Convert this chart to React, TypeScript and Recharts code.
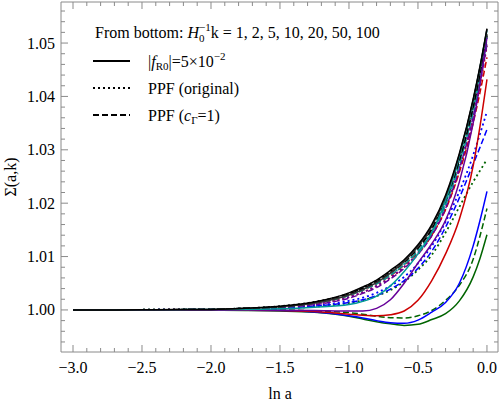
import { Line, LineChart, XAxis, YAxis } from "recharts";

// ln a grid
const lnA = [-3, -2.75, -2.5, -2.25, -2, -1.75, -1.5, -1.25, -1, -0.9, -0.8, -0.7, -0.6, -0.5, -0.4, -0.3, -0.2, -0.1, -0.05, 0];

// Sigma(a,k) for each k: solid = |fR0|=5e-2, orig = PPF (original), cg = PPF (c_Gamma=1)
const k1Solid = [1, 1, 1, 1, 0.99995, 0.9999, 0.9998, 0.99955, 0.9988, 0.9983, 0.9978, 0.9974, 0.9971, 0.9973, 0.9982, 0.9993, 1.0017, 1.0062, 1.0097, 1.0141];
const k1Orig = [1, 1, 1, 1.00003, 1.0001, 1.0001, 1.0003, 1.0006, 1.0013, 1.0018, 1.0026, 1.0037, 1.0053, 1.0075, 1.0103, 1.0145, 1.0193, 1.024, 1.0261, 1.0282];
const k1Cg = [1, 1, 1, 1, 1, 1, 1, 0.9998, 0.9995, 0.9992, 0.9988, 0.99855, 0.9985, 0.9989, 0.9999, 1.0018, 1.0046, 1.0095, 1.0139, 1.019];
const k2Solid = [1, 1, 1, 1, 1, 0.99995, 0.9999, 0.9996, 0.9989, 0.9985, 0.998, 0.9976, 0.9975, 0.9981, 0.9996, 1.0014, 1.005, 1.012, 1.0168, 1.0222];
const k2Orig = [1, 1, 1.00002, 1.00005, 1.0001, 1.0002, 1.0004, 1.0008, 1.0017, 1.0023, 1.0032, 1.0045, 1.0062, 1.0087, 1.012, 1.0165, 1.0222, 1.029, 1.033, 1.0372];
const k2Cg = [1, 1, 1.00002, 1.00004, 1.0001, 1.0002, 1.0003, 1.0007, 1.0014, 1.0019, 1.0027, 1.0039, 1.0055, 1.0078, 1.011, 1.0155, 1.021, 1.0273, 1.0305, 1.0338];
const k5Solid = [1, 1, 1, 1, 1, 0.99995, 0.9999, 0.9997, 0.9992, 0.999, 0.9989, 0.9991, 0.9998, 1.0018, 1.0055, 1.0105, 1.017, 1.027, 1.0345, 1.0432];
const k5Orig = [1, 1, 1.00002, 1.00004, 1.0001, 1.0002, 1.0005, 1.0011, 1.0024, 1.0033, 1.0045, 1.006, 1.008, 1.0105, 1.014, 1.019, 1.0262, 1.036, 1.0422, 1.0495];
const k5Cg = [1, 1, 1.00002, 1.00004, 1.0001, 1.0002, 1.0005, 1.0012, 1.0027, 1.0037, 1.0049, 1.0064, 1.0084, 1.0108, 1.014, 1.0188, 1.0258, 1.035, 1.0408, 1.0473];
const k10Solid = [1, 1, 1, 1, 1, 0.99998, 0.99995, 0.9999, 0.9998, 0.9998, 1.0003, 1.0019, 1.005, 1.0088, 1.0124, 1.0168, 1.024, 1.035, 1.0425, 1.051];
const k10Orig = [1, 1, 1.00002, 1.00005, 1.0001, 1.0002, 1.0005, 1.0011, 1.0024, 1.0033, 1.0045, 1.0061, 1.0081, 1.0107, 1.0142, 1.0193, 1.0268, 1.0368, 1.043, 1.0502];
const k10Cg = [1, 1, 1.00002, 1.00004, 1.0001, 1.0002, 1.0005, 1.001, 1.0022, 1.0031, 1.0042, 1.0058, 1.0078, 1.0104, 1.0139, 1.019, 1.0264, 1.0362, 1.0425, 1.0497];
const k20Solid = [1, 1, 1.00002, 1.00004, 1.0001, 1.0001, 1.0002, 1.0005, 1.001, 1.0016, 1.0026, 1.0045, 1.0072, 1.0105, 1.0145, 1.0205, 1.0288, 1.0392, 1.0455, 1.0524];
const k20Orig = [1, 1, 1.00003, 1.00005, 1.0001, 1.0003, 1.0006, 1.0013, 1.0028, 1.0038, 1.005, 1.0066, 1.0086, 1.0112, 1.0147, 1.02, 1.0276, 1.0376, 1.0438, 1.051];
const k20Cg = [1, 1, 1.00003, 1.00005, 1.0001, 1.0003, 1.0006, 1.0013, 1.0027, 1.0037, 1.0049, 1.0065, 1.0085, 1.011, 1.0145, 1.0197, 1.0273, 1.0372, 1.0434, 1.0506];
const k50Solid = [1, 1, 1.00003, 1.00005, 1.0001, 1.0003, 1.0006, 1.0013, 1.0028, 1.0038, 1.0051, 1.0069, 1.0091, 1.0119, 1.0157, 1.0212, 1.0291, 1.0393, 1.0455, 1.0526];
const k50Orig = [1, 1, 1.00003, 1.00005, 1.0001, 1.0003, 1.0006, 1.0014, 1.003, 1.0041, 1.0054, 1.0071, 1.0091, 1.0118, 1.0154, 1.0208, 1.0285, 1.0386, 1.0448, 1.0518];
const k50Cg = [1, 1, 1.00003, 1.00005, 1.0001, 1.0003, 1.0006, 1.0013, 1.0029, 1.0039, 1.0052, 1.0069, 1.0089, 1.0115, 1.015, 1.0203, 1.0279, 1.0379, 1.0441, 1.0511];
const k100Solid = [1, 1, 1.00003, 1.00006, 1.0001, 1.0003, 1.0007, 1.0015, 1.0032, 1.0043, 1.0056, 1.0074, 1.0094, 1.0122, 1.016, 1.0215, 1.0293, 1.0395, 1.0457, 1.0527];
const k100Orig = [1, 1, 1.00003, 1.00006, 1.0001, 1.0003, 1.0007, 1.0015, 1.0031, 1.0042, 1.0055, 1.0072, 1.0092, 1.0119, 1.0156, 1.021, 1.0287, 1.0388, 1.045, 1.052];
const k100Cg = [1, 1, 1.00003, 1.00006, 1.0001, 1.0003, 1.0006, 1.0014, 1.003, 1.004, 1.0053, 1.007, 1.009, 1.0116, 1.0152, 1.0205, 1.0281, 1.0381, 1.0443, 1.0513];

// tick values (labels only on the major ones)
const xTicks = [-3.0, -2.9, -2.8, -2.7, -2.6, -2.5, -2.4, -2.3, -2.2, -2.1, -2.0, -1.9, -1.8, -1.7, -1.6, -1.5, -1.4, -1.3, -1.2, -1.1, -1.0, -0.9, -0.8, -0.7, -0.6, -0.5, -0.4, -0.3, -0.2, -0.1, 0.0];
const yTicks = [0.994, 0.996, 0.998, 1.0, 1.002, 1.004, 1.006, 1.008, 1.01, 1.012, 1.014, 1.016, 1.018, 1.02, 1.022, 1.024, 1.026, 1.028, 1.03, 1.032, 1.034, 1.036, 1.038, 1.04, 1.042, 1.044, 1.046, 1.048, 1.05, 1.052, 1.054, 1.056];

const kColors = {
  k1: "#006400",
  k2: "#0000ff",
  k5: "#cc0000",
  k10: "#660099",
  k20: "#009999",
  k50: "#333333",
  k100: "#000000",
};

const DOTTED = "2 3";
const DASHED = "6 3";

const series = [
  { key: "k1o", values: k1Orig, color: kColors.k1, dash: DOTTED },
  { key: "k2o", values: k2Orig, color: kColors.k2, dash: DOTTED },
  { key: "k5o", values: k5Orig, color: kColors.k5, dash: DOTTED },
  { key: "k10o", values: k10Orig, color: kColors.k10, dash: DOTTED },
  { key: "k20o", values: k20Orig, color: kColors.k20, dash: DOTTED },
  { key: "k50o", values: k50Orig, color: kColors.k50, dash: DOTTED },
  { key: "k100o", values: k100Orig, color: kColors.k100, dash: DOTTED },
  { key: "k1c", values: k1Cg, color: kColors.k1, dash: DASHED },
  { key: "k2c", values: k2Cg, color: kColors.k2, dash: DASHED },
  { key: "k5c", values: k5Cg, color: kColors.k5, dash: DASHED },
  { key: "k10c", values: k10Cg, color: kColors.k10, dash: DASHED },
  { key: "k20c", values: k20Cg, color: kColors.k20, dash: DASHED },
  { key: "k50c", values: k50Cg, color: kColors.k50, dash: DASHED },
  { key: "k100c", values: k100Cg, color: kColors.k100, dash: DASHED },
  { key: "k1s", values: k1Solid, color: kColors.k1, dash: undefined },
  { key: "k2s", values: k2Solid, color: kColors.k2, dash: undefined },
  { key: "k5s", values: k5Solid, color: kColors.k5, dash: undefined },
  { key: "k10s", values: k10Solid, color: kColors.k10, dash: undefined },
  { key: "k20s", values: k20Solid, color: kColors.k20, dash: undefined },
  { key: "k50s", values: k50Solid, color: kColors.k50, dash: undefined },
  { key: "k100s", values: k100Solid, color: kColors.k100, dash: undefined },
];

const data = lnA.map((x, i) => {
  const row: Record<string, number> = { x };
  series.forEach((s) => (row[s.key] = s.values[i]));
  return row;
});

const FRAME = "#8a8a8a";
const SERIF = '"Liberation Serif", "Times New Roman", serif';

const isMajorX = (v: number) => Math.abs(v * 2 - Math.round(v * 2)) < 1e-6;
const isMajorY = (v: number) => Math.abs(v * 100 - Math.round(v * 100)) < 1e-6;
const fmtX = (v: number) => (Math.abs(v) < 1e-9 ? "0.0" : (v < 0 ? "\u2212" : "") + Math.abs(v).toFixed(1));

function BottomTick(props: any) {
  const { x, y, payload } = props;
  const major = isMajorX(payload.value);
  return (
    <g>
      <line x1={x} x2={x} y1={y} y2={y - (major ? 7 : 4)} stroke={FRAME} />
      {major && (
        <text x={x} y={y + 20.5} textAnchor="middle" fontSize={16} fontFamily={SERIF} fill="#000">
          {fmtX(payload.value)}
        </text>
      )}
    </g>
  );
}

function TopTick(props: any) {
  const { x, y, payload } = props;
  const major = isMajorX(payload.value);
  return <line x1={x} x2={x} y1={y} y2={y + (major ? 7 : 4)} stroke={FRAME} />;
}

function LeftTick(props: any) {
  const { x, y, payload } = props;
  const major = isMajorY(payload.value);
  return (
    <g>
      <line x1={x} x2={x + (major ? 7 : 4)} y1={y} y2={y} stroke={FRAME} />
      {major && (
        <text x={x - 6} y={y + 5.5} textAnchor="end" fontSize={16} fontFamily={SERIF} fill="#000">
          {payload.value.toFixed(2)}
        </text>
      )}
    </g>
  );
}

function RightTick(props: any) {
  const { x, y, payload } = props;
  const major = isMajorY(payload.value);
  return <line x1={x} x2={x - (major ? 7 : 4)} y1={y} y2={y} stroke={FRAME} />;
}

export default function App() {
  return (
    <div style={{ position: "absolute", left: 0, top: 0, width: 500, height: 403, background: "#fff" }}>
      <LineChart width={500} height={403} data={data} margin={{ top: 0, right: 0, bottom: 0, left: 0 }}>
        <XAxis
          xAxisId="b"
          dataKey="x"
          type="number"
          domain={[-3.087, 0.08]}
          allowDataOverflow
          ticks={xTicks}
          interval={0}
          height={51}
          tickSize={0}
          tickMargin={0}
          tickLine={false}
          axisLine={{ stroke: FRAME }}
          tick={BottomTick}
        />
        <XAxis
          xAxisId="t"
          dataKey="x"
          type="number"
          orientation="top"
          domain={[-3.087, 0.08]}
          allowDataOverflow
          ticks={xTicks}
          interval={0}
          height={2}
          tickSize={0}
          tickMargin={0}
          tickLine={false}
          axisLine={{ stroke: FRAME }}
          tick={TopTick}
        />
        <YAxis
          yAxisId="l"
          type="number"
          domain={[0.99212, 1.05769]}
          allowDataOverflow
          ticks={yTicks}
          interval={0}
          width={61}
          tickSize={0}
          tickMargin={0}
          tickLine={false}
          axisLine={{ stroke: FRAME }}
          tick={LeftTick}
        />
        <YAxis
          yAxisId="r"
          orientation="right"
          type="number"
          domain={[0.99212, 1.05769]}
          allowDataOverflow
          ticks={yTicks}
          interval={0}
          width={2}
          tickSize={0}
          tickMargin={0}
          tickLine={false}
          axisLine={{ stroke: FRAME }}
          tick={RightTick}
        />
        {series.map((s) => (
          <Line
            key={s.key}
            xAxisId="b"
            yAxisId="l"
            dataKey={s.key}
            type="monotone"
            stroke={s.color}
            strokeWidth={s.dash === DOTTED ? 1.8 : 1.5}
            strokeDasharray={s.dash}
            dot={false}
            activeDot={false}
            isAnimationActive={false}
          />
        ))}
      </LineChart>
      <svg
        width={500}
        height={403}
        style={{ position: "absolute", left: 0, top: 0, pointerEvents: "none" }}
        fontFamily={SERIF}
      >
        <text x={95} y={38} fontSize={16}>
          From bottom:{" "}
          <tspan fontStyle="italic">H</tspan>
          <tspan fontSize={11} dy={4}>0</tspan>
          <tspan fontSize={11} dx={-5.5} dy={-11}>{"\u22121"}</tspan>
          <tspan dy={7}>k = 1, 2, 5, 10, 20, 50, 100</tspan>
        </text>
        <line x1={93} x2={130} y1={61} y2={61} stroke="#000" strokeWidth={1.8} />
        <text x={148} y={67} fontSize={16}>
          |<tspan fontStyle="italic">f</tspan>
          <tspan fontSize={11} dy={3}>R0</tspan>
          <tspan dy={-3}>|=5×10</tspan>
          <tspan fontSize={11} dy={-7}>{"\u22122"}</tspan>
        </text>
        <line x1={93} x2={130} y1={88} y2={88} stroke="#000" strokeWidth={1.8} strokeDasharray={DOTTED} />
        <text x={148} y={94} fontSize={16}>PPF (original)</text>
        <line x1={93} x2={130} y1={115} y2={115} stroke="#000" strokeWidth={1.8} strokeDasharray={DASHED} />
        <text x={148} y={121} fontSize={16}>
          PPF (<tspan fontStyle="italic">c</tspan>
          <tspan fontSize={11} dy={3}>Γ</tspan>
          <tspan dy={-3}>=1)</tspan>
        </text>
        <text x={280} y={399} fontSize={16} textAnchor="middle">ln a</text>
        <text x={10} y={177} fontSize={16} textAnchor="middle" dominantBaseline="central" transform="rotate(-90 10 177)">
          Σ(a,k)
        </text>
      </svg>
    </div>
  );
}
